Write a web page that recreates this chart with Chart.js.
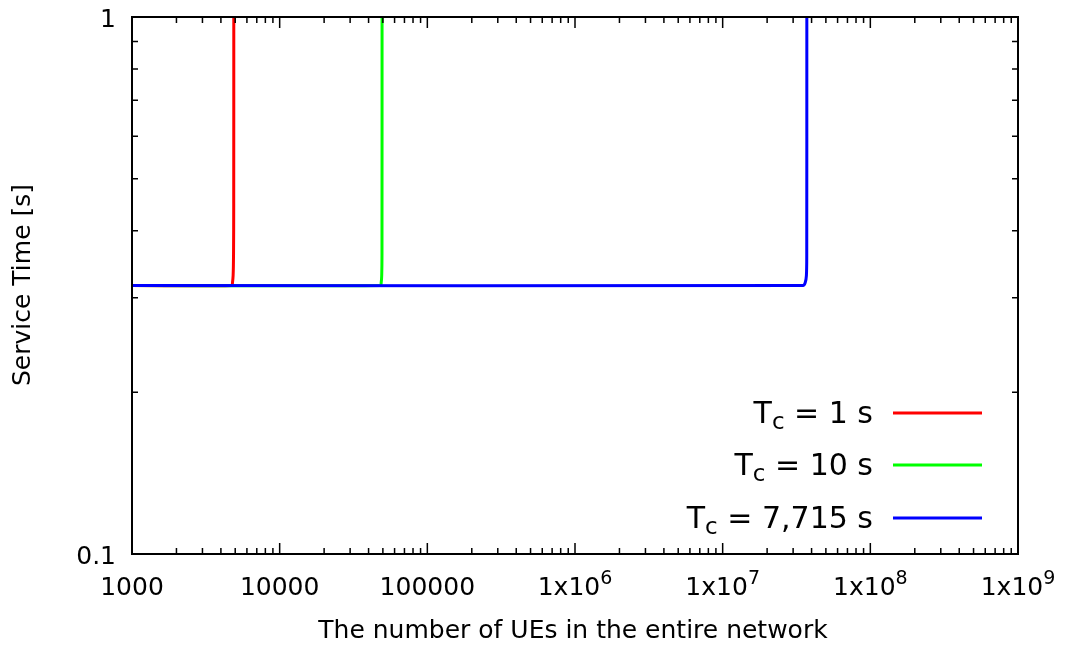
<!DOCTYPE html>
<html>
<head>
<meta charset="utf-8">
<script src="https://cdn.jsdelivr.net/npm/chart.js@4.4.1/dist/chart.umd.min.js"></script>
<style>
  body { margin: 0; background: #fff; }
  canvas { display: block; }
</style>
</head>
<body>
<canvas id="serviceChart" width="1065" height="649"></canvas>
<script>
// axis ticks (log scales)
const xTicks = [1e3, 1e4, 1e5, 1e6, 1e7, 1e8, 1e9];
const xTickLabels = ['1000', '10000', '100000', '1x10^6', '1x10^7', '1x10^8', '1x10^9'];
const yTicks = [0.1, 1];
const yTickLabels = ['0.1', '1'];
const yMinorTicks = [0.2, 0.3, 0.4, 0.5, 0.6, 0.7, 0.8, 0.9];

// legend labels (T_c values)
const tcLabels = ['1 s', '10 s', '7,715 s'];
const tcColors = ['#ff0000', '#00ff00', '#0000ff'];

// number of UEs vs. service time, one pair per T_c
const ueTc1 = [1000, 4740, 4790, 4840, 4870, 4885, 4890];
const timeTc1 = [0.3162, 0.3162, 0.320, 0.330, 0.360, 0.45, 1.0];
const ueTc10 = [1000, 48100, 48700, 49100, 49300, 49360];
const timeTc10 = [0.3162, 0.3162, 0.320, 0.330, 0.360, 1.0];
const ueTc7715 = [1000, 3.50e7, 3.62e7, 3.69e7, 3.71e7, 3.715e7];
const timeTc7715 = [0.3162, 0.3162, 0.320, 0.330, 0.360, 1.0];

const FONT = '"DejaVu Sans", sans-serif';
const LINE_W = 3;

function toPoints(xs, ys) {
  return xs.map((x, i) => ({ x: x, y: ys[i] }));
}

const series = [
  { ue: ueTc1, time: timeTc1 },
  { ue: ueTc10, time: timeTc10 },
  { ue: ueTc7715, time: timeTc7715 }
];

const datasets = series.map((s, i) => ({
  label: tcLabels[i],
  data: toPoints(s.ue, s.time),
  borderColor: tcColors[i],
  borderWidth: LINE_W,
  pointRadius: 0,
  showLine: true,
  tension: 0.3,
  order: series.length - i   // blue on top
}));

// gnuplot-like frame, inward ticks, labels and key
const gnuplotFrame = {
  id: 'gnuplotFrame',
  afterDatasetsDraw(chart) {
    const { ctx, chartArea: a, scales } = chart;
    const xs = scales.x, ys = scales.y;
    ctx.save();
    ctx.strokeStyle = '#000';
    ctx.lineWidth = 1.5;
    ctx.beginPath();
    const tick = (px, len, vertical) => {
      if (vertical) {
        ctx.moveTo(px, a.bottom); ctx.lineTo(px, a.bottom - len);
        ctx.moveTo(px, a.top); ctx.lineTo(px, a.top + len);
      } else {
        ctx.moveTo(a.left, px); ctx.lineTo(a.left + len, px);
        ctx.moveTo(a.right, px); ctx.lineTo(a.right - len, px);
      }
    };
    xTicks.forEach(v => tick(xs.getPixelForValue(v), 11, true));
    xTicks.slice(0, -1).forEach(d => {
      for (let m = 2; m <= 9; m++) tick(xs.getPixelForValue(d * m), 6, true);
    });
    yTicks.forEach(v => tick(ys.getPixelForValue(v), 11, false));
    yMinorTicks.forEach(v => tick(ys.getPixelForValue(v), 6, false));
    ctx.stroke();

    ctx.lineWidth = 2;
    ctx.strokeRect(a.left, a.top, a.right - a.left, a.bottom - a.top);
    ctx.restore();
  },
  afterDraw(chart) {
    const { ctx, scales } = chart;
    ctx.save();
    ctx.fillStyle = '#000';
    ctx.textBaseline = 'alphabetic';

    // x tick labels, exponents raised
    xTickLabels.forEach((lab, i) => {
      const px = scales.x.getPixelForValue(xTicks[i]);
      const parts = lab.split('^');
      ctx.font = '25px ' + FONT;
      const w0 = ctx.measureText(parts[0]).width;
      let w1 = 0;
      if (parts[1]) {
        ctx.font = '19px ' + FONT;
        w1 = ctx.measureText(parts[1]).width;
      }
      const x0 = px - (w0 + w1) / 2;
      ctx.font = '25px ' + FONT;
      ctx.textAlign = 'left';
      ctx.fillText(parts[0], x0, 595);
      if (parts[1]) {
        ctx.font = '19px ' + FONT;
        ctx.fillText(parts[1], x0 + w0, 584);
      }
    });

    // y tick labels
    ctx.font = '25px ' + FONT;
    ctx.textAlign = 'right';
    ctx.textBaseline = 'middle';
    yTickLabels.forEach((lab, i) => {
      ctx.fillText(lab, 116, scales.y.getPixelForValue(yTicks[i]) + 3);
    });

    // axis titles
    ctx.textAlign = 'center';
    ctx.fillText('The number of UEs in the entire network', 573, 631);
    ctx.save();
    ctx.translate(23, 285);
    ctx.rotate(-Math.PI / 2);
    ctx.fillText('Service Time [s]', 0, 0);
    ctx.restore();

    // key, bottom right inside the plot
    const rowY = [413, 465, 518];
    ctx.textBaseline = 'alphabetic';
    ctx.textAlign = 'left';
    tcLabels.forEach((lab, i) => {
      const y = rowY[i];
      const rest = ' = ' + lab;
      ctx.font = '30px ' + FONT;
      const wT = ctx.measureText('T').width;
      const wR = ctx.measureText(rest).width;
      ctx.font = '23px ' + FONT;
      const wC = ctx.measureText('c').width;
      let x = 873 - (wT + wC + wR);
      ctx.font = '30px ' + FONT;
      ctx.fillText('T', x, y + 10);
      x += wT;
      ctx.font = '23px ' + FONT;
      ctx.fillText('c', x, y + 16);
      x += wC;
      ctx.font = '30px ' + FONT;
      ctx.fillText(rest, x, y + 10);

      ctx.strokeStyle = tcColors[i];
      ctx.lineWidth = LINE_W;
      ctx.beginPath();
      ctx.moveTo(893, y);
      ctx.lineTo(982, y);
      ctx.stroke();
    });
    ctx.restore();
  }
};

new Chart(document.getElementById('serviceChart'), {
  type: 'scatter',
  data: { datasets: datasets },
  options: {
    responsive: false,
    animation: false,
    layout: { padding: { left: 132, right: 47, top: 17, bottom: 95 } },
    plugins: {
      legend: { display: false },
      tooltip: { enabled: false }
    },
    scales: {
      x: { type: 'logarithmic', min: 1e3, max: 1e9, display: false },
      y: { type: 'logarithmic', min: 0.1, max: 1, display: false }
    }
  },
  plugins: [gnuplotFrame]
});
</script>
</body>
</html>
